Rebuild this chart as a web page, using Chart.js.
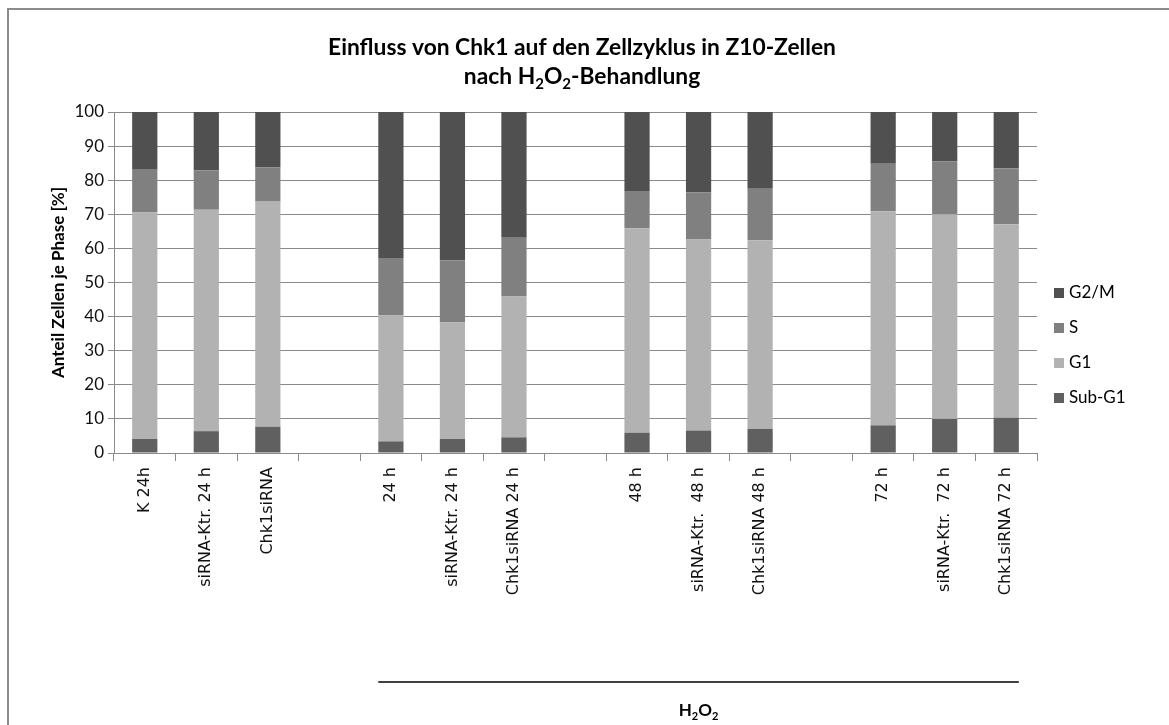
<!DOCTYPE html>
<html>
<head>
<meta charset="utf-8">
<script src="https://cdn.jsdelivr.net/npm/chart.js@4"></script>
<style>
  body { margin: 0; background: #fff; }
  #wrap { width: 1169px; height: 725px; position: relative; }
</style>
</head>
<body>
<div id="wrap"><canvas id="myChart" width="1169" height="725"></canvas></div>
<script>
// categories (empty slots are the gaps between the groups)
const labels = ['K 24h', 'siRNA-Ktr. 24 h', 'Chk1siRNA', '',
    '24 h', 'siRNA-Ktr. 24 h', 'Chk1siRNA 24 h', '',
    '48 h', 'siRNA-Ktr.  48 h', 'Chk1siRNA 48 h', '',
    '72 h', 'siRNA-Ktr.  72 h', 'Chk1siRNA 72 h'];

// percent of cells per phase
const subG1 = [4.1, 6.4, 7.7, null, 3.4, 4.1, 4.6, null, 5.9, 6.6, 7.1, null, 8.1, 10.0, 10.3];
const g1    = [66.4, 64.9, 66.2, null, 36.9, 34.2, 41.3, null, 60.0, 56.0, 55.3, null, 62.8, 60.0, 56.8];
const sPhase = [12.6, 11.6, 9.9, null, 16.9, 18.2, 17.2, null, 10.9, 13.9, 15.1, null, 13.9, 15.5, 16.4];
const g2m   = [16.9, 17.1, 16.2, null, 42.8, 43.5, 36.9, null, 23.2, 23.5, 22.5, null, 15.2, 14.5, 16.5];

const seriesNames = ['Sub-G1', 'G1', 'S', 'G2/M'];
const seriesColors = ['#606060', '#b2b2b2', '#808080', '#505050'];
const yTicks = [0, 10, 20, 30, 40, 50, 60, 70, 80, 90, 100];

const titleFont = 'Lato';
const labelFont = "'DejaVu Sans', Verdana, sans-serif";
const gridColor = '#8a8a8a';

// draw text made of parts, some of them as subscript, centered on x
function drawRich(ctx, parts, cx, cy, size) {
    const subSize = Math.round(size * 0.65);
    let total = 0;
    parts.forEach(p => {
        ctx.font = 'bold ' + (p.sub ? subSize : size) + 'px ' + titleFont;
        p.w = ctx.measureText(p.t).width;
        total += p.w;
    });
    let x = cx - total / 2;
    ctx.textAlign = 'left';
    ctx.textBaseline = 'middle';
    parts.forEach(p => {
        ctx.font = 'bold ' + (p.sub ? subSize : size) + 'px ' + titleFont;
        ctx.fillText(p.t, x, p.sub ? cy + size * 0.3 : cy);
        x += p.w;
    });
}

const decorations = {
    id: 'decorations',
    beforeDraw(chart) {
        const ctx = chart.ctx;
        ctx.save();
        ctx.fillStyle = '#fff';
        ctx.fillRect(0, 0, chart.width, chart.height);
        // frame (only top and left edge visible)
        ctx.strokeStyle = '#8c8c8c';
        ctx.lineWidth = 2;
        ctx.beginPath();
        ctx.moveTo(8, chart.height);
        ctx.lineTo(8, 9);
        ctx.lineTo(chart.width, 9);
        ctx.stroke();
        ctx.restore();
    },
    afterDraw(chart) {
        const ctx = chart.ctx;
        const area = chart.chartArea;
        ctx.save();
        ctx.fillStyle = '#000';

        // title, sized so the first line is as wide as in the original
        ctx.font = 'bold 20px ' + titleFont;
        const line1 = 'Einfluss von Chk1 auf den Zellzyklus in Z10-Zellen';
        const tSize = Math.round(20 * 509 / ctx.measureText(line1).width * 10) / 10;
        drawRich(ctx, [{t: line1}], 582, 48, tSize);
        drawRich(ctx, [{t: 'nach H'}, {t: '2', sub: true}, {t: 'O'}, {t: '2', sub: true}, {t: '-Behandlung'}], 582, 77, tSize);

        // legend, top to bottom in reverse series order
        const lx = area.right + 17;
        let ly = 293;
        for (let i = seriesNames.length - 1; i >= 0; i--) {
            ctx.fillStyle = seriesColors[i];
            ctx.fillRect(lx, ly - 5, 10, 10);
            ctx.fillStyle = '#000';
            ctx.font = '17px ' + titleFont;
            ctx.textAlign = 'left';
            ctx.textBaseline = 'middle';
            ctx.fillText(seriesNames[i], lx + 15, ly);
            ly += 35;
        }

        // H2O2 bracket under the treated groups
        const meta = chart.getDatasetMeta(0);
        const first = meta.data[4];
        const last = meta.data[14];
        const x0 = first.x - first.width / 2;
        const x1 = last.x + last.width / 2;
        ctx.strokeStyle = '#000';
        ctx.lineWidth = 1.5;
        ctx.beginPath();
        ctx.moveTo(x0, 682);
        ctx.lineTo(x1, 682);
        ctx.stroke();
        drawRich(ctx, [{t: 'H'}, {t: '2', sub: true}, {t: 'O'}, {t: '2', sub: true}], (x0 + x1) / 2, 711, 17);
        ctx.restore();
    }
};

const datasets = seriesNames.map((name, i) => ({
    label: name,
    data: [subG1, g1, sPhase, g2m][i],
    backgroundColor: seriesColors[i],
    borderWidth: 0,
    barPercentage: 0.41,
    categoryPercentage: 1.0
}));

const ctx = document.getElementById('myChart').getContext('2d');
const myChart = new Chart(ctx, {
    type: 'bar',
    data: { labels: labels, datasets: datasets },
    plugins: [decorations],
    options: {
        responsive: false,
        animation: false,
        layout: { padding: { top: 112, left: 44, right: 132, bottom: 0 } },
        plugins: {
            legend: { display: false },
            title: { display: false },
            tooltip: { enabled: false }
        },
        scales: {
            x: {
                stacked: true,
                grid: { offset: true, drawOnChartArea: false, drawTicks: true, tickLength: 8, color: gridColor },
                border: { color: gridColor },
                ticks: {
                    autoSkip: false, maxRotation: 90, minRotation: 90,
                    font: { family: labelFont, size: 16 }, color: '#111', padding: 6
                },
                afterFit(scale) { scale.height = 272; }
            },
            y: {
                stacked: true,
                min: 0, max: 100,
                afterBuildTicks(scale) { scale.ticks = yTicks.map(v => ({ value: v })); },
                grid: { color: gridColor, tickLength: 6 },
                border: { color: gridColor },
                ticks: { font: { family: titleFont, size: 17 }, color: '#111', padding: 4 },
                title: {
                    display: true, text: 'Anteil Zellen je Phase [%]',
                    font: { family: titleFont, size: 17, weight: 'bold' }, color: '#000',
                    padding: { top: 4, bottom: 4 }
                },
                afterFit(scale) { scale.width = 70; }
            }
        }
    }
});
</script>
</body>
</html>
